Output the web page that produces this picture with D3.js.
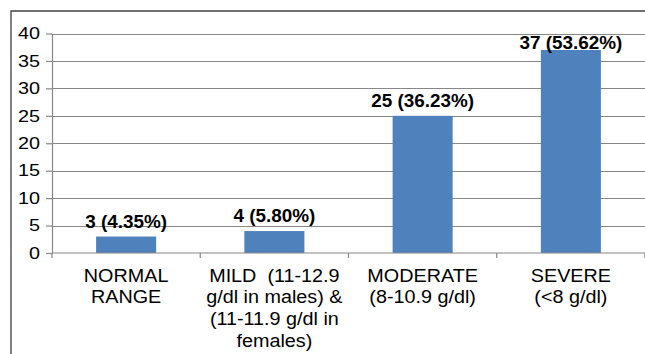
<!DOCTYPE html>
<html>
<head>
<meta charset="utf-8">
<script src="https://cdn.jsdelivr.net/npm/d3@7/dist/d3.min.js"></script>
<style>
  html, body { margin: 0; padding: 0; background: #fff; }
  svg { display: block; }
  text { font-family: "Liberation Sans", Arial, sans-serif; fill: #000; }
</style>
</head>
<body>
<svg id="chart" width="645" height="354"></svg>
<script>
// Anaemia severity groups (category labels split into lines)
const categories = ["NORMAL", "MILD", "MODERATE", "SEVERE"];
const categoryLines = [
  ["NORMAL", "RANGE"],
  ["MILD  (11-12.9", "g/dl in males) &", "(11-11.9 g/dl in", "females)"],
  ["MODERATE", "(8-10.9 g/dl)"],
  ["SEVERE", "(<8 g/dl)"]
];
const counts = [3, 4, 25, 37];
const percents = ["4.35%", "5.80%", "36.23%", "53.62%"];
const yTicks = [0, 5, 10, 15, 20, 25, 30, 35, 40];

const svg = d3.select("#chart");
const W = 645, H = 354;
const plot = { left: 52, right: 645, top: 33.5, bottom: 253 };

// Outer chart frame (left and top edges)
svg.append("path")
  .attr("d", `M11,${H} L11,11 L${W},11`)
  .attr("fill", "none")
  .attr("stroke", "#404040")
  .attr("stroke-width", 1.3);

const x = d3.scaleBand().domain(categories).range([plot.left, plot.right]).padding(0);
const y = d3.scaleLinear().domain([0, 40]).range([plot.bottom, plot.top]);

// Horizontal gridlines
svg.append("g")
  .selectAll("line")
  .data(yTicks.filter(d => d > 0))
  .join("line")
  .attr("x1", plot.left).attr("x2", plot.right)
  .attr("y1", d => Math.round(y(d)) + 0.5).attr("y2", d => Math.round(y(d)) + 0.5)
  .attr("stroke", "#878787")
  .attr("stroke-width", 1.2);

// Y axis
const yAxis = svg.append("g")
  .attr("transform", `translate(${plot.left},0)`)
  .call(d3.axisLeft(y).tickValues(yTicks).tickSize(6).tickPadding(5).tickSizeOuter(0));
yAxis.select(".domain").attr("stroke", "#878787").attr("stroke-width", 1.2);
yAxis.selectAll(".tick line").attr("stroke", "#878787").attr("stroke-width", 1.2);
yAxis.selectAll(".tick text")
  .style("font-family", "'Liberation Sans', Arial, sans-serif")
  .style("font-size", "16.5px")
  .attr("fill", "#000")
  .attr("x", 0)
  .attr("transform", "translate(-12,0) scale(1.2,1)");

// Bars
const barW = x.bandwidth() * 0.405;
svg.append("g")
  .selectAll("rect")
  .data(categories)
  .join("rect")
  .attr("x", (d) => x(d) + (x.bandwidth() - barW) / 2)
  .attr("y", (d, i) => y(counts[i]))
  .attr("width", barW)
  .attr("height", (d, i) => y(0) - y(counts[i]))
  .attr("fill", "#4F81BD");

// X axis line and category ticks
svg.append("line")
  .attr("x1", plot.left).attr("x2", plot.right)
  .attr("y1", plot.bottom).attr("y2", plot.bottom)
  .attr("stroke", "#878787").attr("stroke-width", 1.2);
const boundaries = categories.map(d => x(d)).concat([plot.right]);
svg.append("g")
  .selectAll("line")
  .data(boundaries)
  .join("line")
  .attr("x1", d => d).attr("x2", d => d)
  .attr("y1", plot.bottom).attr("y2", plot.bottom + 5)
  .attr("stroke", "#878787").attr("stroke-width", 1.2);

// Category labels
const catG = svg.append("g");
categories.forEach((c, i) => {
  const t = catG.append("text")
    .attr("text-anchor", "middle")
    .attr("font-size", 18.5)
    .attr("transform", `translate(${x(c) + x.bandwidth() / 2},281.5) scale(1.07,1)`);
  categoryLines[i].forEach((line, j) => {
    t.append("tspan")
      .attr("x", 0)
      .attr("y", j * 21.7)
      .attr("xml:space", "preserve")
      .style("white-space", "pre")
      .text(line);
  });
});

// Value labels above bars, kept inside the plot area
const labelY = v => Math.max(y(v) - 9, plot.top + 15);
svg.append("g")
  .selectAll("text")
  .data(categories)
  .join("text")
  .attr("text-anchor", "middle")
  .attr("font-size", 18)
  .attr("font-weight", "bold")
  .attr("transform", (d, i) =>
    `translate(${x(d) + x.bandwidth() / 2},${labelY(counts[i])}) scale(1.05,1)`)
  .text((d, i) => `${counts[i]} (${percents[i]})`);
</script>
</body>
</html>
